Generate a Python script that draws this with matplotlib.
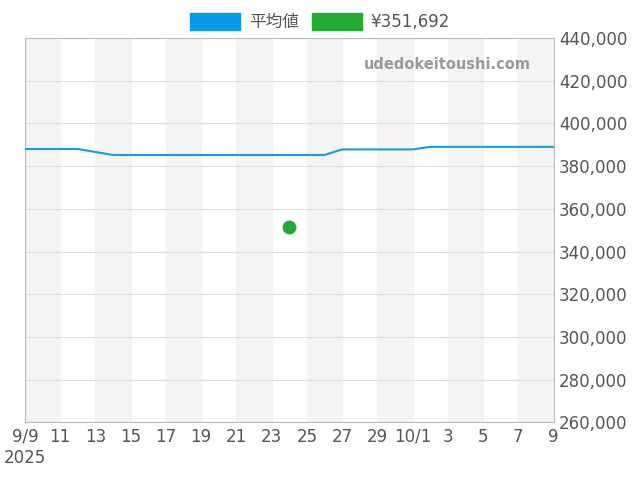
import matplotlib.pyplot as plt
from matplotlib.patches import Patch

plt.rcParams['font.family'] = ['DejaVu Sans', 'Noto Sans CJK JP']

# day offsets from 2025-09-09
avg_days = [0, 3, 5, 17, 18, 22, 23, 30]
avg_vals = [388000, 388000, 385200, 385200, 387800, 387800, 389000, 389000]
pt_days = [15]
pt_vals = [351692]
tick_days = list(range(0, 31, 2))
tick_labels = ["9/9\n2025", "11", "13", "15", "17", "19", "21", "23", "25", "27", "29",
               "10/1", "3", "5", "7", "9"]

fig, ax = plt.subplots(figsize=(6.4, 4.8), dpi=100)
fig.subplots_adjust(left=0.039, right=0.865, top=0.921, bottom=0.12)

for d in range(0, 30, 4):
    ax.axvspan(d, d + 2, color="#f4f4f4", zorder=0)

ax.plot(avg_days, avg_vals, color="#1a9be0", lw=1.5, zorder=3)
ax.scatter(pt_days, pt_vals, color="#22aa33", s=80, zorder=4)

ax.set_xlim(0, 30)
ax.set_ylim(260000, 440000)
ax.set_xticks(tick_days)
ax.set_xticklabels(tick_labels, fontsize=12, color="#555555")
ax.yaxis.tick_right()
ax.set_yticks(range(260000, 440001, 20000))
ax.set_yticklabels([f"{v:,}" for v in range(260000, 440001, 20000)], fontsize=12, color="#555555")
ax.tick_params(length=0, pad=4)
ax.grid(axis="y", color="#dddddd", lw=0.8)
for s in ax.spines.values():
    s.set_color("#bbbbbb")

ax.text(0.957, 0.93, "udedokeitoushi.com", transform=ax.transAxes, ha="right", va="center",
        fontsize=10.5, color="#999999", fontweight="bold")

handles = [Patch(color="#0a9be6", label="平均値"), Patch(color="#22aa33", label="¥351,692")]
fig.legend(handles=handles, loc="upper center", bbox_to_anchor=(0.5, 1.005), ncol=2, frameon=False,
           fontsize=12, handlelength=3, handleheight=1.2, columnspacing=0.8, handletextpad=0.5,
           labelcolor="#555555")

fig.savefig("out.png")
